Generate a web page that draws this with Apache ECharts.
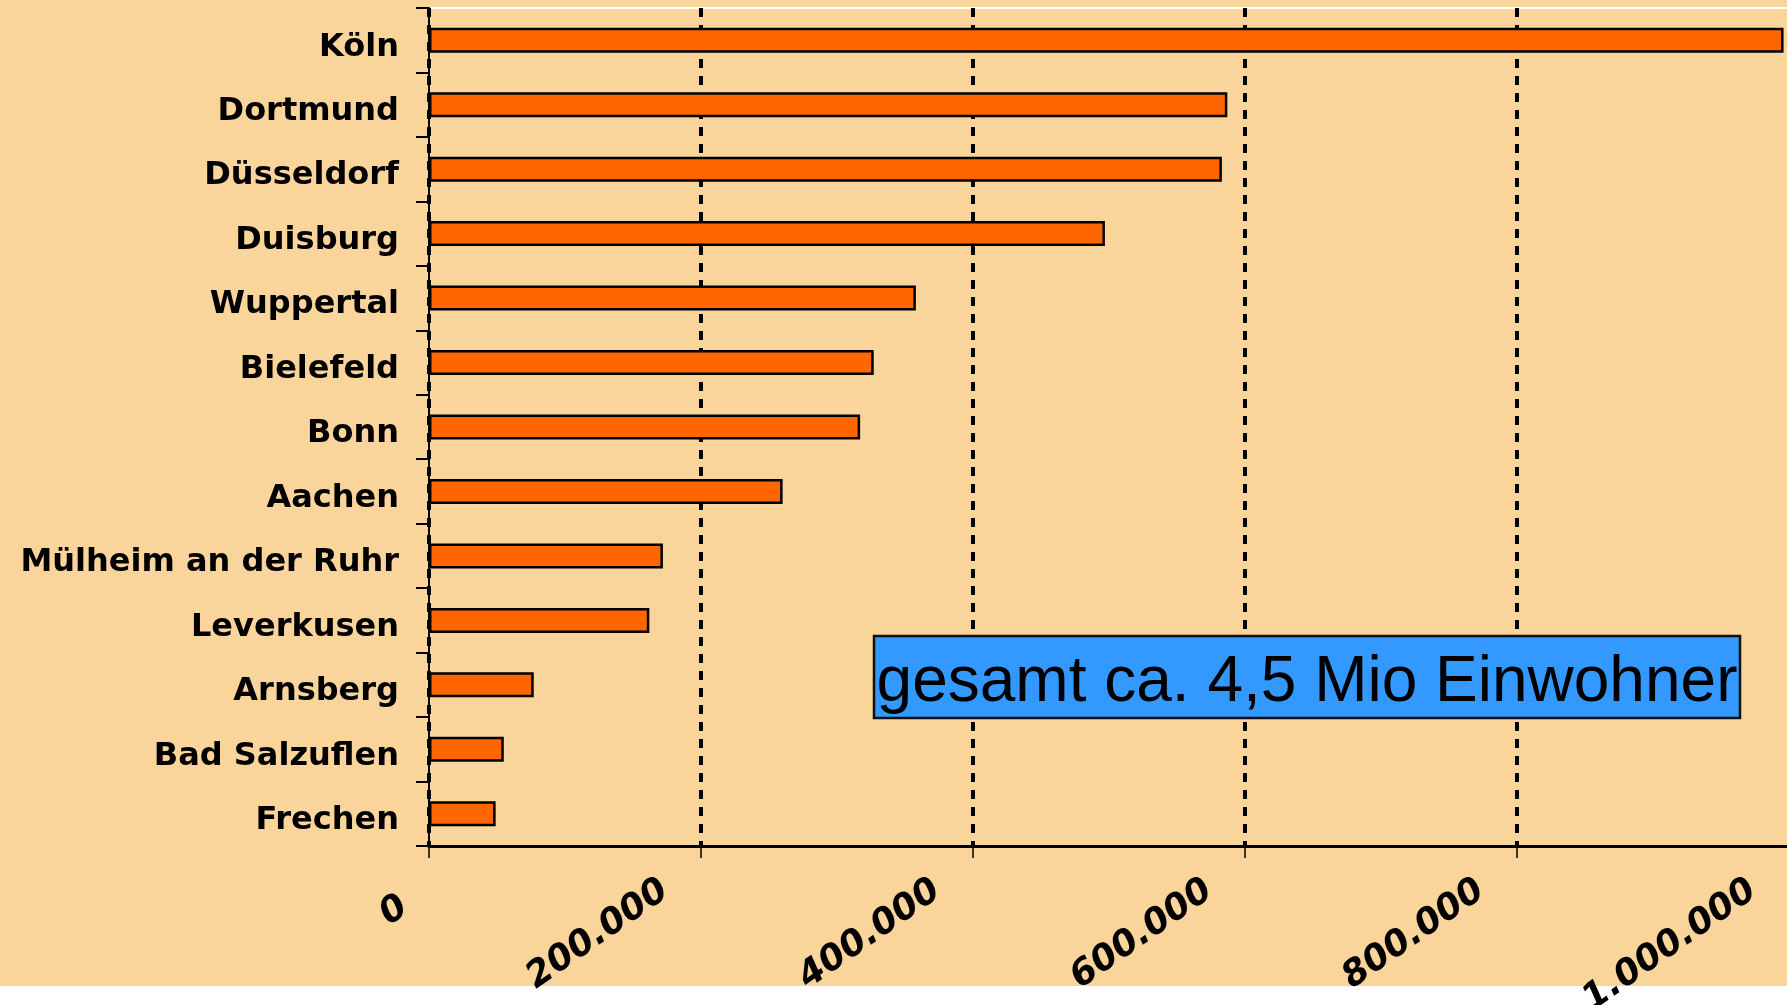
<!DOCTYPE html>
<html lang="de">
<head>
  <meta charset="UTF-8">
  <script src="https://cdn.jsdelivr.net/npm/echarts@6/dist/echarts.min.js"></script>
  <title>Einwohner</title>
  <style>
    html, body { margin: 0; padding: 0; background: #fff; }
    #chart {
      width: 1787px; height: 1005px;
      background: linear-gradient(to bottom, #F9D49B 0, #F9D49B 986px, #fff 986px);
    }
  </style>
</head>
<body>
  <div id="chart"></div>
  <script>
    // Städte, von oben nach unten
    var cities = ['Köln', 'Dortmund', 'Düsseldorf', 'Duisburg', 'Wuppertal', 'Bielefeld',
      'Bonn', 'Aachen', 'Mülheim an der Ruhr', 'Leverkusen', 'Arnsberg', 'Bad Salzuflen', 'Frechen'];
    // Einwohner (aus dem Bild geschätzt)
    var population = [996000, 587000, 583000, 497000, 358000, 327000,
      317000, 260000, 172000, 162000, 77000, 55000, 49000];
    var xTicks = [0, 200000, 400000, 600000, 800000, 1000000];
    var note = 'gesamt ca. 4,5 Mio Einwohner';

    function deNumber(v) {
      var s = String(v).replace(/\B(?=(\d{3})+(?!\d))/g, '.');
      // die "0" sitzt im Original etwas tiefer
      return v === 0 ? '{z|' + s + '}' : s;
    }

    var chart = echarts.init(document.getElementById('chart'));

    var labelFont = {
      color: '#000',
      fontFamily: 'DejaVu Sans',
      fontWeight: 'bold',
      fontStyle: 'italic',
      fontSize: 36
    };

    chart.setOption({
      backgroundColor: 'transparent',
      animation: false,
      grid: {
        left: 429, right: -2, top: 8, bottom: 159,
        show: true, borderColor: '#fff', borderWidth: 2,
        backgroundColor: 'transparent',
        outerBoundsMode: 'none'
      },
      xAxis: {
        type: 'value',
        min: xTicks[0],
        max: xTicks[xTicks.length - 1],
        interval: xTicks[1] - xTicks[0],
        axisLine: { show: true, lineStyle: { color: '#000', width: 3 } },
        axisTick: { show: true, length: 12, lineStyle: { color: '#000', width: 1.5 } },
        splitLine: { show: true, lineStyle: { color: '#000', width: 4, type: [9, 8] } },
        axisLabel: Object.assign({
          rotate: 35,
          margin: 16,
          padding: [0, 44, 0, 0],
          formatter: deNumber,
          rich: {
            z: Object.assign({ padding: [40, 0, 0, 0] }, labelFont)
          }
        }, labelFont)
      },
      yAxis: {
        type: 'category',
        inverse: true,
        data: cities,
        axisLine: { show: true, lineStyle: { color: '#000', width: 2 } },
        axisTick: { show: true, length: 13, lineStyle: { color: '#000', width: 2 } },
        axisLabel: {
          margin: 30,
          verticalAlign: 'top',
          lineHeight: 14,
          color: '#000',
          fontFamily: 'DejaVu Sans',
          fontWeight: 'bold',
          fontSize: 32
        }
      },
      series: [{
        type: 'bar',
        data: population,
        barWidth: 25,
        itemStyle: { color: '#FF6600', borderColor: '#000', borderWidth: 2.5 }
      }],
      graphic: [{
        type: 'rect',
        shape: { x: 874, y: 636, width: 866, height: 82 },
        style: { fill: '#3399FF', stroke: '#111', lineWidth: 2.5 },
        z: 100
      }, {
        type: 'text',
        x: 1307, y: 683,
        style: {
          text: note,
          fill: '#000',
          font: '64px "Liberation Sans", Arial, sans-serif',
          textAlign: 'center',
          textVerticalAlign: 'middle'
        },
        z: 101
      }]
    });
  </script>
</body>
</html>
